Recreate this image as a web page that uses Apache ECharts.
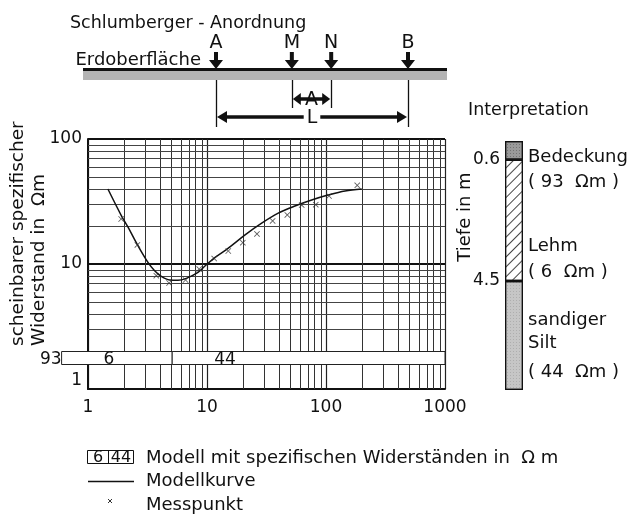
<!DOCTYPE html>
<html><head><meta charset="utf-8">
<script src="https://cdn.jsdelivr.net/npm/echarts@6/dist/echarts.min.js"></script>
<style>html,body{margin:0;padding:0;background:#fff}#c{width:630px;height:515px}</style>
</head><body><div id="c"></div>
<script>
const FONT = 'DejaVu Sans';

// ---- measured apparent resistivity (Messpunkte): AB/2 [m], rho_a [Ohm m]
const spacing     = [1.9, 2.6, 3.75, 4.8, 6.6, 8.6, 11.5, 15.1, 20, 26.3, 35.6, 47.3, 62.5, 82, 106, 183];
const rhoMeasured = [22.9, 14.2, 8.06, 7.05, 7.45, 9.1, 11.05, 12.7, 14.8, 17.4, 22.1, 24.7, 29.6, 29.8, 35.0, 42.6];

// ---- model curve (Modellkurve)
const curveX = [1.47, 1.91, 2.17, 2.63, 3.19, 3.63, 4.13, 4.86, 5.7, 6.7, 8.4, 9.62, 11.7, 15.1, 20.9, 28.8, 39.7, 54.8, 75.8, 104, 144.5, 199.5];
const curveY = [39.8, 24.3, 19.7, 14.0, 10.3, 8.84, 7.97, 7.45, 7.4, 7.68, 8.58, 9.64, 11.3, 13.4, 17.1, 21.2, 25.5, 29.1, 32.5, 35.6, 38.4, 39.8];

// ---- model band (layer resistivities along the AB/2 axis)
const modelRho    = [93, 6, 44];
const modelFrom   = [0.6, 0.6, 5.1];
const modelTo     = [0.6, 5.1, 1000];
const bandRange   = [1.56, 2.0];

// ---- interpretation column
const layerThickness = [0.6, 3.9, 3.5];
const depthTicks     = [0.6, 4.5];
const depthMax       = 8;

// ---- axis ticks / grid values
const xTickValues = [1, 10, 100, 1000];
const xTickLabels = ['1', '10', '100', '1000'];
const yTickValues = [1, 10, 100];
const yTickLabels = ['1', '10', '100'];
const xMinor = [2,3,4,5,6,7,8,9,20,30,40,50,60,70,80,90,200,300,400,500,600,700,800,900];
const yMinor = [2,3,4,5,6,7,8,9,20,30,40,50,60,70,80,90];

// ---- electrode arrangement (relative to L/2)
const electrodeNames = ['A', 'M', 'N', 'B'];
const electrodePos   = [-1, -0.21, 0.2, 1];

const chart = echarts.init(document.getElementById('c'), null, {renderer: 'canvas'});

function f(sz){ return sz + 'px "' + FONT + '"'; }

// ---------- schematic + legend + texts (graphic) ----------
const G = [];
const cx = 312, halfL = 96;
const ex = electrodePos.map(p => cx + p * halfL);
G.push({type:'text', x:70, y:23, style:{text:'Schlumberger - Anordnung', font:f(17.5), fill:'#111', verticalAlign:'middle'}});
G.push({type:'text', x:201, y:60, style:{text:'Erdoberfläche', font:f(18), fill:'#111', align:'right', verticalAlign:'middle'}});
// ground bar
G.push({type:'rect', shape:{x:83, y:71, width:364, height:9}, style:{fill:'#b4b4b4'}});
G.push({type:'rect', shape:{x:83, y:68, width:364, height:3}, style:{fill:'#111'}});
ex.forEach((x, i) => {
  G.push({type:'text', x:x, y:43, style:{text:electrodeNames[i], font:f(19), fill:'#111', align:'center', verticalAlign:'middle'}});
  G.push({type:'polygon', shape:{points:[[x-2,52],[x+2,52],[x+2,60],[x+7,60],[x,69],[x-7,60],[x-2,60]]}, style:{fill:'#111'}});
  const yEnd = (i === 0 || i === 3) ? 127 : 108;
  G.push({type:'line', shape:{x1:Math.round(x)+0.5, y1:80, x2:Math.round(x)+0.5, y2:yEnd}, style:{stroke:'#111', lineWidth:1.3}});
});
function dimArrow(x1, x2, y, label, head, bg){
  G.push({type:'line', shape:{x1:x1+head-1, y1:y, x2:x2-head+1, y2:y}, style:{stroke:'#111', lineWidth:3.5}});
  G.push({type:'polygon', shape:{points:[[x1+1,y],[x1+head,y-6],[x1+head,y+6]]}, style:{fill:'#111'}});
  G.push({type:'polygon', shape:{points:[[x2-1,y],[x2-head,y-6],[x2-head,y+6]]}, style:{fill:'#111'}});
  G.push({type:'text', x:(x1+x2)/2, y:y+1, style:{text:label, font:f(19), fill:'#111', align:'center', verticalAlign:'middle', backgroundColor: bg ? '#fff' : null, padding: bg ? [0,3] : 0}});
}
dimArrow(ex[1], ex[2], 99, 'A', 9, false);
dimArrow(ex[0], ex[3], 117, 'L', 11, true);

// y axis title
G.push({type:'text', x:18, y:346, rotation:Math.PI/2, style:{text:'scheinbarer spezifischer', font:f(18.5), fill:'#111', align:'left', verticalAlign:'middle'}});
G.push({type:'text', x:39, y:346, rotation:Math.PI/2, style:{text:'Widerstand in  Ωm', font:f(18.5), fill:'#111', align:'left', verticalAlign:'middle'}});

// interpretation
G.push({type:'text', x:468, y:110, style:{text:'Interpretation', font:f(17.5), fill:'#111', verticalAlign:'middle'}});
G.push({type:'text', x:465, y:217, rotation:Math.PI/2, style:{text:'Tiefe in m', font:f(18), fill:'#111', align:'center', verticalAlign:'middle'}});
const layerTexts = [['Bedeckung',157],['( 93  Ωm )',182],['Lehm',246],['( 6  Ωm )',272],['sandiger',320],['Silt',343],['( 44  Ωm )',372]];
layerTexts.forEach(t => G.push({type:'text', x:528, y:t[1], style:{text:t[0], font:f(18), fill:'#111', verticalAlign:'middle'}}));

// legend
G.push({type:'rect', shape:{x:87.5, y:450.5, width:46, height:13}, style:{fill:'#fff', stroke:'#111', lineWidth:1}});
G.push({type:'line', shape:{x1:108.5, y1:450.5, x2:108.5, y2:463.5}, style:{stroke:'#111', lineWidth:1}});
G.push({type:'text', x:98, y:458, style:{text:String(modelRho[1]), font:f(16), fill:'#111', align:'center', verticalAlign:'middle'}});
G.push({type:'text', x:121, y:458, style:{text:String(modelRho[2]), font:f(16), fill:'#111', align:'center', verticalAlign:'middle'}});
G.push({type:'text', x:146, y:458, style:{text:'Modell mit spezifischen Widerständen in  Ω m', font:f(18), fill:'#111', verticalAlign:'middle'}});
G.push({type:'line', shape:{x1:88, y1:481.5, x2:134, y2:481.5}, style:{stroke:'#111', lineWidth:1.3}});
G.push({type:'text', x:146, y:481, style:{text:'Modellkurve', font:f(18), fill:'#111', verticalAlign:'middle'}});
G.push({type:'line', shape:{x1:108, y1:499, x2:112, y2:503}, style:{stroke:'#333', lineWidth:1}});
G.push({type:'line', shape:{x1:112, y1:499, x2:108, y2:503}, style:{stroke:'#333', lineWidth:1}});
G.push({type:'text', x:146, y:505, style:{text:'Messpunkt', font:f(18), fill:'#111', verticalAlign:'middle'}});

const crossPath = 'path://M1,0L5,4L9,0L10,1L6,5L10,9L9,10L5,6L1,10L0,9L4,5L0,1Z';

const option = {
  animation: false,
  backgroundColor: '#fff',
  textStyle: {fontFamily: FONT, color: '#111'},
  grid: [
    {left: 88, top: 139, width: 357, height: 250},
    {left: 505, top: 141, width: 18, height: 249}
  ],
  xAxis: [
    {type: 'log', logBase: 10, min: 1, max: 1000, gridIndex: 0,
     axisLine: {show: true, lineStyle: {color: '#111', width: 2}},
     axisTick: {show: false},
     axisLabel: {fontSize: 17, color: '#111', margin: 10, fontFamily: FONT,
       formatter: v => { const i = xTickValues.findIndex(t => Math.abs(t - v) / t < 1e-6); return i >= 0 ? xTickLabels[i] : ''; }},
     splitLine: {show: true, lineStyle: {color: '#222', width: 1.2}}},
    {type: 'category', gridIndex: 1, data: [''], show: false}
  ],
  yAxis: [
    {type: 'log', logBase: 10, min: 1, max: 100, gridIndex: 0,
     axisLine: {show: true, lineStyle: {color: '#111', width: 2}},
     axisTick: {show: false},
     axisLabel: {fontSize: 17, color: '#111', margin: 6, fontFamily: FONT,
       formatter: v => { const i = yTickValues.findIndex(t => Math.abs(t - v) / t < 1e-6); if (i < 0) return ''; return i === 0 ? '{lo|' + yTickLabels[i] + '}' : yTickLabels[i]; },
       rich: {lo: {fontSize: 17, fontFamily: FONT, color: '#111', padding: [0, 0, 16, 0]}}},
     splitLine: {show: true, lineStyle: {color: '#111', width: 2}}},
    {type: 'value', gridIndex: 1, inverse: true, min: 0, max: depthMax,
     axisLine: {show: false}, axisTick: {show: false}, splitLine: {show: false},
     axisLabel: {show: true, customValues: depthTicks, fontSize: 17, color: '#111', margin: 5, fontFamily: FONT,
       formatter: v => Number(v).toFixed(1)}}
  ],
  graphic: {elements: G},
  series: [
    {type: 'custom', name: 'xminor', xAxisIndex: 0, yAxisIndex: 0, silent: true, z: 1,
     data: xMinor.map(v => [v, yTickValues[0]]),
     renderItem: (p, api) => {
       const a = api.coord([api.value(0), yTickValues[0]]);
       const b = api.coord([api.value(0), yTickValues[yTickValues.length - 1]]);
       const x = Math.round(a[0]) + 0.5;
       return {type: 'line', shape: {x1: x, y1: a[1], x2: x, y2: b[1]}, style: {stroke: '#333', lineWidth: 1}};
     }},
    {type: 'custom', name: 'yminor', xAxisIndex: 0, yAxisIndex: 0, silent: true, z: 1,
     data: yMinor.map(v => [xTickValues[0], v]),
     renderItem: (p, api) => {
       const a = api.coord([xTickValues[0], api.value(1)]);
       const b = api.coord([xTickValues[xTickValues.length - 1], api.value(1)]);
       const y = Math.round(a[1]) + 0.5;
       return {type: 'line', shape: {x1: a[0], y1: y, x2: b[0], y2: y}, style: {stroke: '#444', lineWidth: 1}};
     }},
    {type: 'custom', name: 'Modell', xAxisIndex: 0, yAxisIndex: 0, silent: true, z: 3, clip: false,
     encode: {x: [0, 1], y: 2},
     data: modelRho.map((r, i) => [modelFrom[i], modelTo[i], r]),
     renderItem: (p, api) => {
       const from = api.value(0), to = api.value(1), rho = api.value(2);
       const top = api.coord([from, bandRange[1]]);
       const bot = api.coord([to, bandRange[0]]);
       const midY = (top[1] + bot[1]) / 2;
       if (from === to) {
         return {type: 'text', x: top[0], y: midY + 1, style: {text: String(rho), font: f(17), fill: '#111', align: 'right', verticalAlign: 'middle'}};
       }
       return {type: 'group', children: [
         {type: 'rect', shape: {x: top[0], y: Math.round(top[1]) + 0.5, width: bot[0] - top[0], height: Math.round(bot[1] - top[1])},
          style: {fill: '#fff', stroke: '#222', lineWidth: 1}},
         {type: 'text', x: top[0] + 42, y: midY + 1, style: {text: String(rho), font: f(17), fill: '#111', align: 'left', verticalAlign: 'middle'}}
       ]};
     }},
    {type: 'line', name: 'Modellkurve', xAxisIndex: 0, yAxisIndex: 0, z: 4,
     data: curveX.map((x, i) => [x, curveY[i]]),
     smooth: 0.35, showSymbol: false, symbol: 'none',
     lineStyle: {color: '#111', width: 1.5}},
    {type: 'scatter', name: 'Messpunkt', xAxisIndex: 0, yAxisIndex: 0, z: 5,
     data: spacing.map((x, i) => [x, rhoMeasured[i]]),
     symbol: crossPath, symbolSize: 6, itemStyle: {color: '#333'}},
    {type: 'bar', name: 'Bedeckung', xAxisIndex: 1, yAxisIndex: 1, stack: 'd', barWidth: 18,
     data: [layerThickness[0]],
     itemStyle: {color: '#9a9a9a', borderColor: '#111', borderWidth: 1.2,
       decal: {symbol: 'rect', symbolSize: 1, dashArrayX: [1, 2], dashArrayY: [1, 2], color: 'rgba(0,0,0,0.25)'}}},
    {type: 'bar', name: 'Lehm', xAxisIndex: 1, yAxisIndex: 1, stack: 'd', barWidth: 18,
     data: [layerThickness[1]],
     itemStyle: {color: '#fff', borderColor: '#111', borderWidth: 1.2,
       decal: {symbol: 'rect', symbolSize: 1, dashArrayX: [1, 0], dashArrayY: [1, 6], rotation: -Math.PI / 4, color: '#444'}}},
    {type: 'bar', name: 'sandiger Silt', xAxisIndex: 1, yAxisIndex: 1, stack: 'd', barWidth: 18,
     data: [layerThickness[2]],
     itemStyle: {color: '#c6c6c6', borderColor: '#111', borderWidth: 1.2,
       decal: {symbol: 'rect', symbolSize: 1, dashArrayX: [1, 2], dashArrayY: [1, 2], color: 'rgba(0,0,0,0.12)'}}}
  ]
};
chart.setOption(option);
</script>
</body></html>
